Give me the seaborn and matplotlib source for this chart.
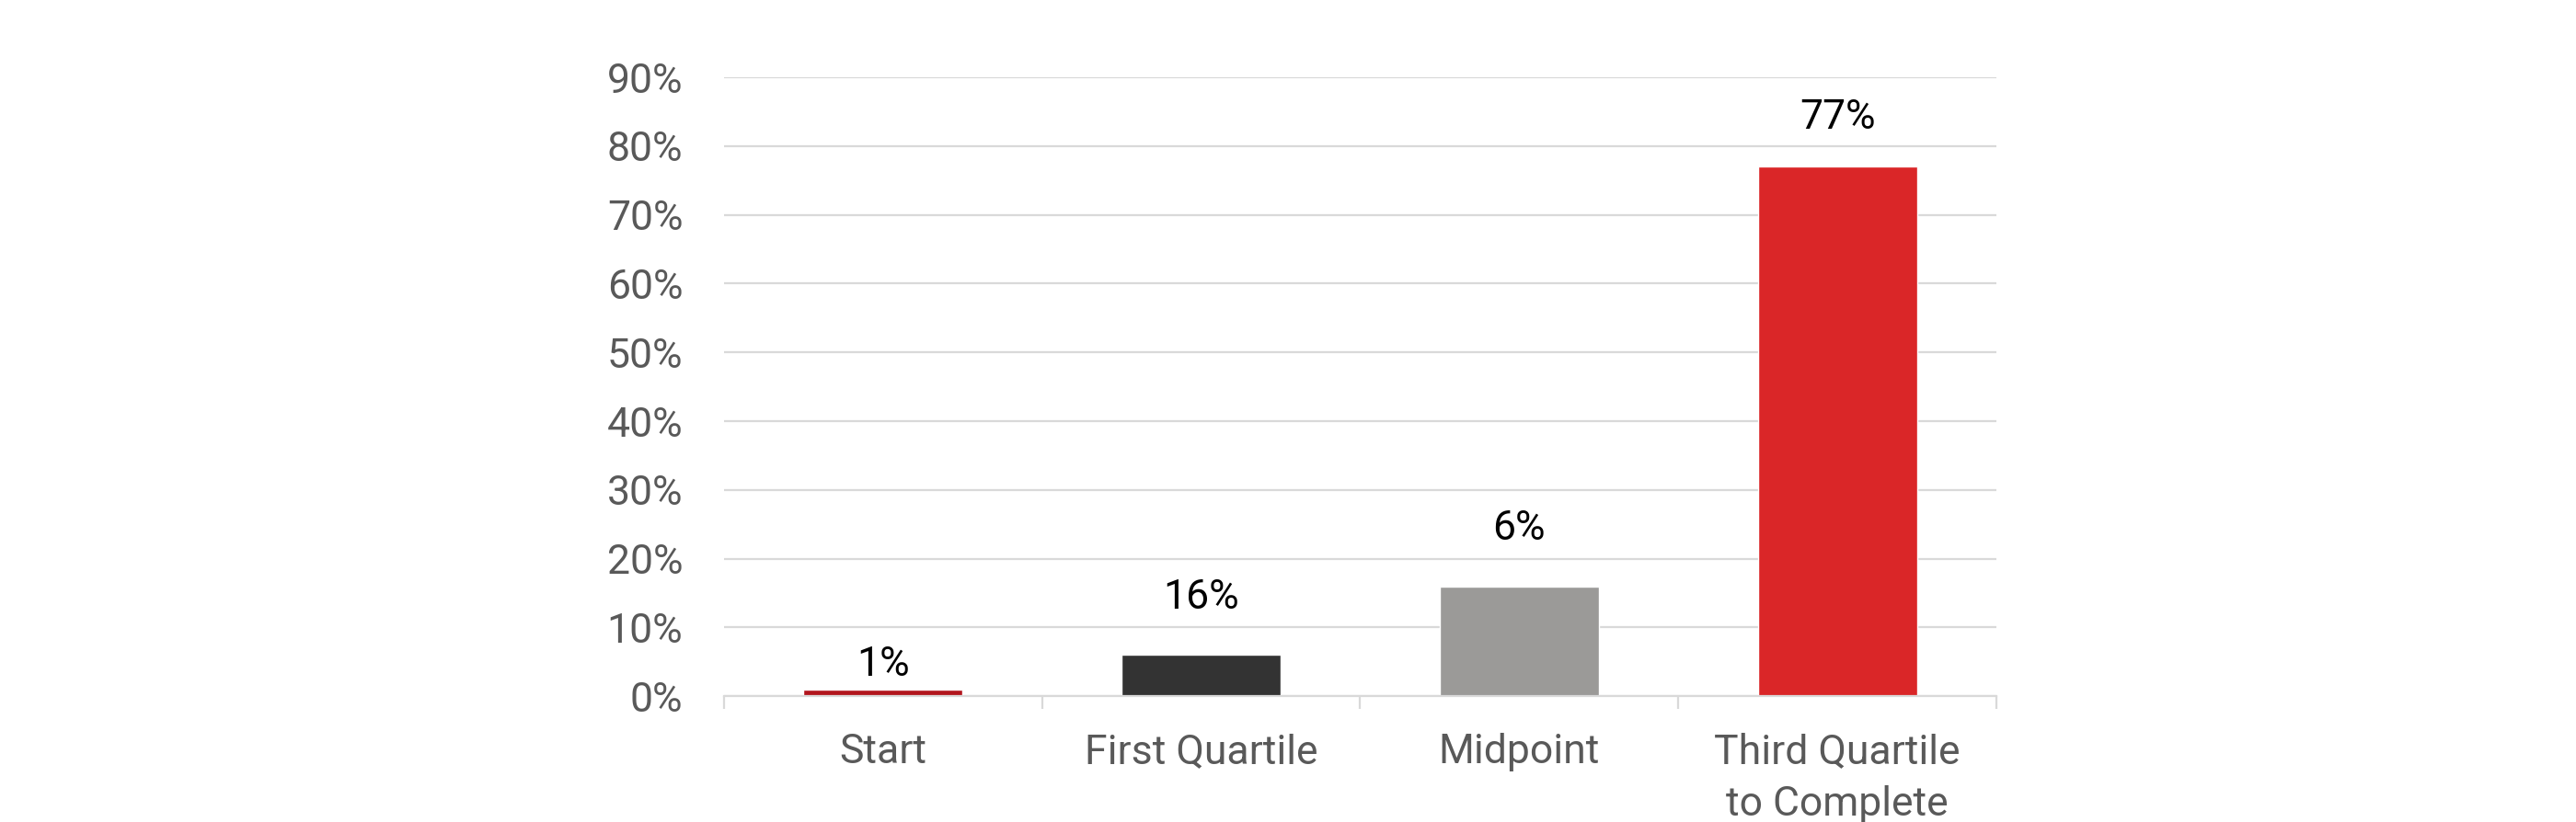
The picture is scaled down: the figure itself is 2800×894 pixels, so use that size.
import matplotlib
matplotlib.use('Agg')
from matplotlib import pyplot as plt
from matplotlib.ticker import FixedLocator, PercentFormatter
import pandas as pd
import seaborn as sns

# data
stages = ['Start', 'First Quartile', 'Midpoint', 'Third Quartile\nto Complete']
bar_values = [1, 6, 16, 77]
value_labels = ['1%', '16%', '6%', '77%']
bar_colors = ['#B2151D', '#333333', '#9B9A98', '#DA2628']
y_ticks = [0, 10, 20, 30, 40, 50, 60, 70, 80, 90]


def main():
    df = pd.DataFrame({'stage': stages, 'value': bar_values})

    sns.set_theme(style='white')
    plt.rcParams['font.family'] = ['Roboto', 'DejaVu Sans']

    fig = plt.figure(figsize=(28, 8.94), dpi=100)
    ax = fig.add_axes([0.281, 0.153, 0.494, 0.753])

    sns.barplot(data=df, x='stage', y='value', hue='stage',
                palette=bar_colors, width=0.5, legend=False, ax=ax,
                saturation=1)

    ax.set_ylim(0, 90)
    ax.set_xlim(-0.5, len(stages) - 0.5)
    ax.yaxis.set_major_locator(FixedLocator(y_ticks))
    ax.yaxis.set_major_formatter(PercentFormatter(decimals=0))
    ax.grid(axis='y', color='#D9D9D9', linewidth=1.6)
    ax.set_axisbelow(True)

    for side in ['top', 'right', 'left']:
        ax.spines[side].set_visible(False)
    ax.spines['bottom'].set_color('#D9D9D9')
    ax.spines['bottom'].set_linewidth(1.6)

    # category separators below the axis
    ax.xaxis.set_minor_locator(FixedLocator(
        [i - 0.5 for i in range(len(stages) + 1)]))
    ax.tick_params(axis='x', which='minor', length=10, width=1.6,
                   color='#D9D9D9', bottom=True)
    ax.tick_params(axis='x', which='major', length=0, pad=29,
                   labelsize=32, labelcolor='#595959')
    ax.tick_params(axis='y', length=0, pad=32, labelsize=32,
                   labelcolor='#595959')
    for lab in ax.get_xticklabels():
        lab.set_linespacing(1.45)
        lab.set_verticalalignment('top')

    ax.set_xlabel('')
    ax.set_ylabel('')

    # value labels (as printed in the source)
    gaps = [4, 30, 30, 23]
    for i, (val, txt) in enumerate(zip(bar_values, value_labels)):
        ax.annotate(txt, xy=(i, val), xytext=(0, gaps[i]),
                    textcoords='offset points', ha='center', va='bottom',
                    fontsize=32, color='black')

    fig.savefig('out.png', dpi=100)
    plt.close(fig)


if __name__ == "__main__":
    main()
